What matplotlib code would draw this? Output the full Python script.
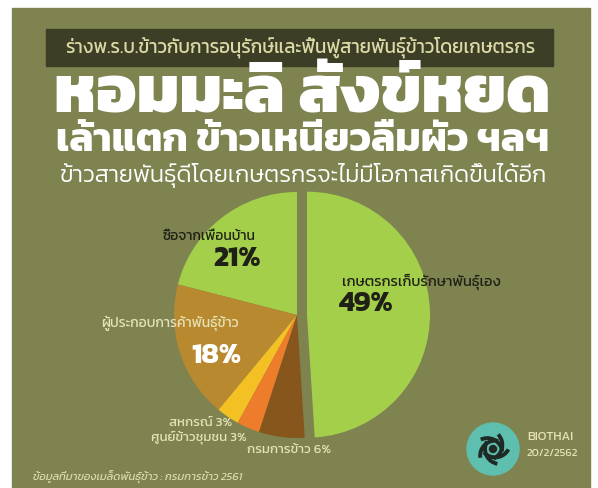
import matplotlib
matplotlib.use('Agg')
import numpy as np
import matplotlib.pyplot as plt
from matplotlib.patches import Rectangle, Circle, Arc

plt.rcParams['font.family'] = ['Kanit', 'DejaVu Sans']

# data
labels = ['ซื้อจากเพื่อนบ้าน', 'ผู้ประกอบการค้าพันธุ์ข้าว', 'สหกรณ์', 'ศูนย์ข้าวชุมชน',
          'กรมการข้าว', 'เกษตรกรเก็บรักษาพันธุ์เอง']
values = [21, 18, 3, 3, 6, 49]
colors = ['#a4cf4a', '#b8892f', '#f4c124', '#ed7d2b', '#86561d', '#a4cf4a']

header = 'ร่างพ.ร.บ.ข้าวกับการอนุรักษ์และฟื้นฟูสายพันธุ์ข้าวโดยเกษตรกร'
title1 = 'หอมมะลิ สังข์หยด'
title2 = 'เล้าแตก ข้าวเหนียวลืมผัว ฯลฯ'
title3 = 'ข้าวสายพันธุ์ดีโดยเกษตรกรจะไม่มีโอกาสเกิดขึ้นได้อีก'
source = 'ข้อมูลที่มาของเมล็ดพันธุ์ข้าว : กรมการข้าว 2561'

W, H = 598, 488
bg = '#7e8350'
cream = '#e6e3b8'
dark = '#1f2016'

fig = plt.figure(figsize=(W / 100, H / 100), dpi=100)
fig.patch.set_facecolor('white')

# background in pixel coordinates
bga = fig.add_axes([0, 0, 1, 1], zorder=0)
bga.set_xlim(0, W)
bga.set_ylim(H, 0)
bga.axis('off')
bga.add_patch(Rectangle((12, 8), 578, 480, color=bg))
bga.add_patch(Rectangle((46, 29), 507, 37, color='#3c3e26'))

# pie
R = 123
cx, cy = 297, 315
span = 2.2 * R
pa = fig.add_axes([(cx - span / 2) / W, (H - cy - span / 2) / H, span / W, span / H], zorder=1)
pa.pie(values, colors=colors, startangle=90, counterclock=True,
       explode=[0, 0, 0, 0, 0, 10 / R], radius=1,
       wedgeprops=dict(linewidth=0))
pa.set_xlim(-1.1, 1.1)
pa.set_ylim(-1.1, 1.1)
pa.axis('off')

# text overlay
ta = fig.add_axes([0, 0, 1, 1], zorder=2)
ta.set_xlim(0, W)
ta.set_ylim(H, 0)
ta.axis('off')
ta.patch.set_alpha(0)

ta.text(300, 47, header, color='#dcdaa6', fontsize=13.5, ha='center', va='center')
ta.text(302, 97, title1, color='white', fontsize=48, weight=800, ha='center', va='center')
ta.text(303, 142, title2, color='white', fontsize=29, weight=700, ha='center', va='center')
ta.text(303, 176, title3, color='white', fontsize=17, weight=300, ha='center', va='center')

ta.text(209, 236, labels[0], color=dark, fontsize=10, ha='center', va='center')
ta.text(237, 259, f'{values[0]}%', color=dark, fontsize=20.5, weight=700, ha='center', va='center')
ta.text(421, 282, labels[5], color=dark, fontsize=10.5, ha='center', va='center')
ta.text(366, 304, f'{values[5]}%', color=dark, fontsize=20.5, weight=700, ha='center', va='center')
ta.text(170, 323, labels[1], color=cream, fontsize=10, ha='center', va='center')
ta.text(216, 356, f'{values[1]}%', color='white', fontsize=20.5, weight=700, ha='center', va='center')
ta.text(232, 423, f'{labels[2]} {values[2]}%', color=cream, fontsize=9.5, ha='right', va='center')
ta.text(247, 438, f'{labels[3]} {values[3]}%', color=cream, fontsize=9.5, ha='right', va='center')
ta.text(247, 450, f'{labels[4]} {values[4]}%', color=cream, fontsize=9.5, ha='left', va='center')

ta.text(33, 477, source, color=cream, fontsize=8, style='italic', ha='left', va='center', alpha=0.9)

# logo
lx, ly = 493, 449
ta.add_patch(Circle((lx, ly), 26, color='#5fbfae'))
for k in range(5):
    a = np.deg2rad(72 * k)
    ta.add_patch(Arc((lx + 7 * np.cos(a), ly + 7 * np.sin(a)), 30, 30, angle=72 * k,
                     theta1=100, theta2=210, color='#1f2a25', lw=2.8))
ta.add_patch(Circle((lx, ly), 3.5, color='#1f2a25'))
ta.text(527, 437, 'BIOTHAI', color=cream, fontsize=9, ha='left', va='center')
ta.text(527, 453, '20/2/2562', color=cream, fontsize=8, ha='left', va='center')

fig.savefig('out.png', dpi=100, facecolor=fig.get_facecolor())
